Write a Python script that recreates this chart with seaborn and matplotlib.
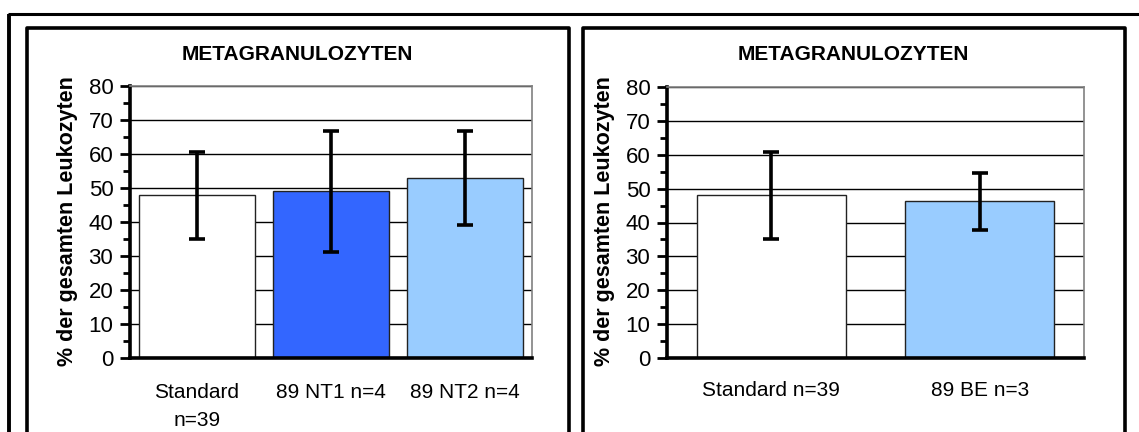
import matplotlib
matplotlib.use("Agg")
import matplotlib.pyplot as plt
from matplotlib.lines import Line2D
from matplotlib.ticker import MultipleLocator
import seaborn as sns

# ---- data ----
title = "METAGRANULOZYTEN"
ylabel = "% der gesamten Leukozyten"

left_cats = ["Standard\nn=39", "89 NT1 n=4", "89 NT2 n=4"]
left_vals = [48.0, 49.1, 53.1]
left_errs = [12.8, 17.7, 13.8]
left_colors = ["#FFFFFF", "#3366FF", "#99CCFF"]

right_cats = ["Standard n=39", "89 BE n=3"]
right_vals = [48.0, 46.2]
right_errs = [12.8, 8.3]
right_colors = ["#FFFFFF", "#99CCFF"]

y_ticks = [0, 10, 20, 30, 40, 50, 60, 70, 80]

sns.set_theme(style="white")
plt.rcParams["font.family"] = ["Liberation Sans", "DejaVu Sans"]
plt.rcParams["text.color"] = "black"
plt.rcParams["axes.labelcolor"] = "black"
plt.rcParams["xtick.color"] = "black"
plt.rcParams["ytick.color"] = "black"

W, H = 1139, 432
fig = plt.figure(figsize=(W / 100, H / 100), dpi=100)
fig.patch.set_facecolor("white")


def px_rect(x0, x1, ytop, ybot):
    return [x0 / W, 1 - ybot / H, (x1 - x0) / W, (ybot - ytop) / H]


def draw_panel(ax, cats, vals, errs, colors, width, pad):
    sns.barplot(x=cats, y=vals, hue=cats, palette=colors, legend=False,
                width=width, edgecolor="#222222", linewidth=1.0, ax=ax,
                errorbar=None, saturation=1)
    ax.errorbar(x=list(range(len(cats))), y=vals, yerr=errs, fmt="none",
                ecolor="black", elinewidth=2.6, capsize=6, capthick=2.6,
                zorder=5)
    ax.set_xlim(-0.5, len(cats) - 0.5)
    ax.set_ylim(0, 80)
    ax.set_yticks(y_ticks)
    ax.yaxis.set_minor_locator(MultipleLocator(5))
    ax.set_axisbelow(True)
    ax.yaxis.grid(True, which="major", color="black", linewidth=1.0)
    ax.xaxis.grid(False)
    for s in ["top", "right"]:
        ax.spines[s].set_color("#808080")
        ax.spines[s].set_linewidth(1.2)
    for s in ["left", "bottom"]:
        ax.spines[s].set_color("black")
        ax.spines[s].set_linewidth(2.6)
    ax.tick_params(axis="y", which="major", direction="out", length=7,
                   width=2, color="black", labelsize=16, labelcolor="black",
                   pad=5, left=True)
    ax.tick_params(axis="y", which="minor", direction="out", length=5,
                   width=2, color="black", left=True)
    ax.tick_params(axis="x", length=0, labelsize=15, labelcolor="black",
                   pad=pad)
    for lab in ax.get_xticklabels():
        lab.set_linespacing(1.6)
    ax.set_xlabel("")
    ax.set_ylabel("")
    ax.set_facecolor("white")


ax1 = fig.add_axes(px_rect(130, 532, 86.3, 358.3))
draw_panel(ax1, left_cats, left_vals, left_errs, left_colors, 0.866, 17.5)
ax2 = fig.add_axes(px_rect(667, 1084, 87, 358))
draw_panel(ax2, right_cats, right_vals, right_errs, right_colors, 0.715, 16.5)

# titles and y labels
for cx in (297.5, 853.5):
    fig.text(cx / W, 1 - 55 / H, title, ha="center", va="center",
             fontsize=15, fontweight="bold", color="black")
for cx in (68, 604):
    fig.text(cx / W, 1 - 221 / H, ylabel, ha="center", va="center",
             rotation=90, fontsize=15.5, fontweight="bold", color="black")


def fline(xs, ys, lw):
    fig.add_artist(Line2D([x / W for x in xs], [1 - y / H for y in ys],
                          color="black", linewidth=lw,
                          transform=fig.transFigure, solid_capstyle="butt"))


# outer frame
fline([8, W + 5], [13.5, 13.5], 2.2)
fline([9, 9], [13.5, H + 5], 2.8)
# panel boxes
fline([27, 27, 568.5, 568.5], [H + 5, 27.5, 27.5, H + 5], 2.6)
fline([582.5, 582.5, 1124.5, 1124.5], [H + 5, 27.5, 27.5, H + 5], 2.6)

fig.savefig("out.png", dpi=100, facecolor="white")
